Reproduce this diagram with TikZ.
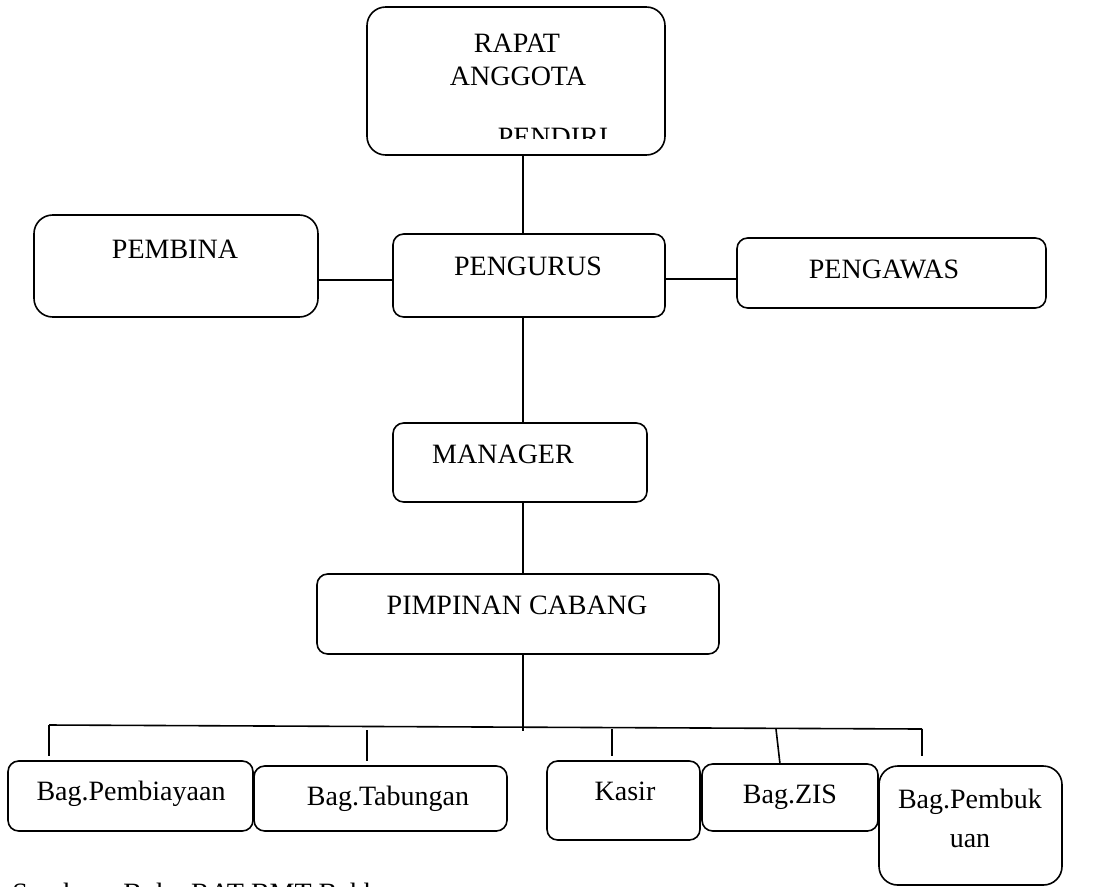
\documentclass[tikz,border=0pt]{standalone}
\usepackage{fontspec}
\setmainfont{Liberation Serif}
\usepackage{tikz}
\usetikzlibrary{fit}

\tikzset{
  box/.style={draw, line width=1.2pt, rounded corners=8pt, inner sep=0pt},
  bigbox/.style={box, rounded corners=14pt},
  txt/.style={anchor=base, inner sep=0pt, font=\fontsize{21}{25}\selectfont},
  link/.style={line width=1.2pt}
}

\begin{document}
\begin{tikzpicture}[x=0.75pt,y=0.75pt,yscale=-1,xscale=1]
\useasboundingbox (0,0) rectangle (1120,886);
\coordinate (spine) at (523,0);
% boxes
\node (rapat) [bigbox, fit={(367,7) (665,155)}] {};
\node (pembina) [bigbox, fit={(34,215) (318,317)}] {};
\node (pengurus) [box, fit={(393,234) (665,317)}] {};
\node (pengawas) [box, fit={(737,238) (1046,308)}] {};
\node (manager) [box, fit={(393,423) (647,502)}] {};
\node (cabang) [box, fit={(317,574) (719,654)}] {};
\node (pembiayaan) [box, fit={(8,761) (253,831)}] {};
\node (tabungan) [box, fit={(254,766) (507,831)}] {};
\node (kasir) [box, fit={(547,761) (700,840)}] {};
\node (zis) [box, fit={(702,764) (878,831)}] {};
\node (pembukuan) [bigbox, fit={(879,766) (1062,885)}] {};
% texts
\node (trapat) [txt] at (517,52) {RAPAT};
\node (tanggota) [txt] at (518,85) {ANGGOTA};
\begin{scope}
\clip (367,7) rectangle (665,138);
\node (tpendiri) [txt] at (553,146) {PENDIRI};
\end{scope}
\node (tpembina) [txt] at (175,258) {PEMBINA};
\node (tpengurus) [txt] at (528,275) {PENGURUS};
\node (tpengawas) [txt] at (884,278) {PENGAWAS};
\node (tmanager) [txt] at (503,463) {MANAGER};
\node (tcabang) [txt] at (517,614) {PIMPINAN CABANG};
\node (tpembiayaan) [txt] at (131,800) {Bag.Pembiayaan};
\node (ttabungan) [txt] at (388,805) {Bag.Tabungan};
\node (tkasir) [txt] at (625,800) {Kasir};
\node (tzis) [txt] at (790,803) {Bag.ZIS};
\node (tpembukuan) [txt, align=center] at (970,808) {Bag.Pembuk};
\node (tuan) [txt] at (970,847) {uan};
\node (sumber) [txt, anchor=base west] at (12,902) {Sumber : Buku RAT BMT Bakh};
% connectors
\draw [link] (spine |- rapat.south) -- (spine |- pengurus.north);
\draw [link] (pembina.east |- 0,280) -- (pengurus.west |- 0,280);
\draw [link] (pengurus.east |- 0,279) -- (pengawas.west |- 0,279);
\draw [link] (spine |- pengurus.south) -- (spine |- manager.north);
\draw [link] (spine |- manager.south) -- (spine |- cabang.north);
\coordinate (busl) at (49,725);
\coordinate (busr) at (922,729);
\draw [link] (spine |- cabang.south) -- (523,731);
\draw [link] (busl) -- (busr);
\draw [link] (busl) -- (49,756);
\draw [link] (367,730) -- (367,761);
\draw [link] (612,729) -- (612,756);
\draw [link] (776,729) -- (780,764);
\draw [link] (busr) -- (922,756);
\end{tikzpicture}
\end{document}
